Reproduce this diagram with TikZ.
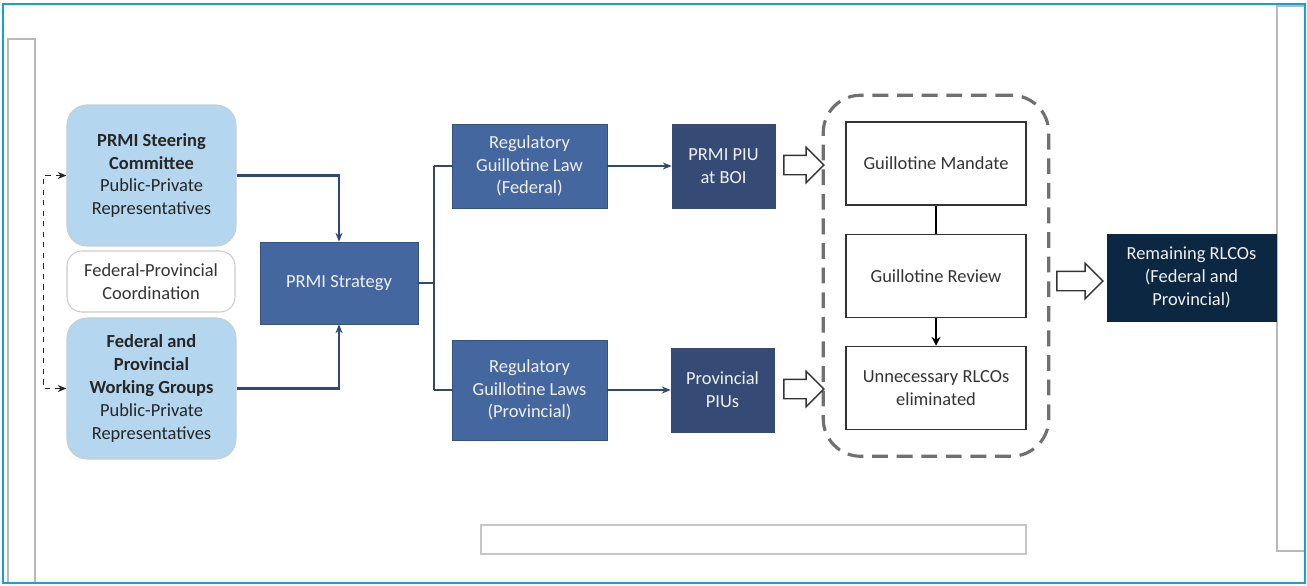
\documentclass[tikz,border=0pt]{standalone}
\usepackage{fontspec}
\setmainfont{Carlito}
\usepackage{tikz}
\usetikzlibrary{shapes.arrows, arrows.meta, positioning, fit}
\usepackage{xcolor}
\definecolor{paleblue}{RGB}{180,214,238}
\definecolor{midblue}{RGB}{68,103,160}
\definecolor{piublue}{RGB}{53,75,117}
\definecolor{navy}{RGB}{11,39,65}
\definecolor{linkblue}{RGB}{47,72,120}
\definecolor{framecyan}{RGB}{20,160,220}
\definecolor{groupgray}{RGB}{112,112,112}

\begin{document}
\begin{tikzpicture}[
    x=0.02cm, y=-0.02cm,
    body/.style={rectangle, rounded corners=0.4cm, draw=gray!40, line width=0.6pt, align=center, fill=paleblue, text=black!85, minimum width=3.38cm, minimum height=2.82cm},
    coordbox/.style={rectangle, rounded corners=0.3cm, draw=gray!40, line width=0.6pt, align=center, fill=white, text=black!80, minimum width=3.36cm, minimum height=1.22cm},
    process/.style={rectangle, draw=midblue!80!black, line width=0.4pt, align=center, fill=midblue, text=white!94!black, minimum width=3.1cm, minimum height=1.68cm},
    unit/.style={process, fill=piublue, draw=piublue, minimum width=2.06cm},
    stage/.style={rectangle, draw=black!80, line width=0.9pt, align=center, fill=white, text=black!80, minimum width=3.6cm, minimum height=1.66cm},
    hollow/.style={single arrow, draw=black!80, fill=white, line width=0.8pt, minimum height=0.8cm, minimum width=0.68cm, inner sep=0.18cm, single arrow head extend=0.16cm, anchor=center},
    link/.style={-{Stealth[length=5pt, width=4pt]}, linkblue, line width=1.3pt},
    branch/.style={linkblue, line width=1.3pt},
    every node/.append style={font=\fontsize{10.5}{13}\selectfont}
]
    % Frame and empty panels
    \useasboundingbox (0,0) rectangle (1307,585);
    \fill[white] (0,0) rectangle (1307,585);
    \draw[gray!55, line width=0.8pt] (8,583) |- (35,39) -- (35,583);
    \draw[gray!55, line width=0.8pt] (1305,6) -| (1277,551) -- (1305,551);
    \draw[gray!45, line width=0.8pt] (481,525) rectangle (1026,554);
    \draw[framecyan, line width=1.4pt] (3,4) rectangle (1305,583);

    % Left column
    \node[body] (steer) at (151.5,175.5) {\textbf{PRMI Steering}\\\textbf{Committee}\\Public-Private\\Representatives};
    \node[coordbox] (fedprov) at (151,281.5) {Federal-Provincial\\Coordination};
    \node[body] (groups) at (151.5,388.5) {\textbf{Federal and}\\\textbf{Provincial}\\\textbf{Working Groups}\\Public-Private\\Representatives};

    % Strategy and laws
    \node[process, minimum width=3.16cm, minimum height=1.64cm] (strategy) at (339,283) {PRMI Strategy};
    \node[process] (lawfed) at (529.5,166) {Regulatory\\Guillotine Law\\(Federal)};
    \node[process, minimum height=2.0cm] (lawprov) at (529.5,390) {Regulatory\\Guillotine Laws\\(Provincial)};

    % Implementation units
    \node[unit] (piufed) at (723.5,166) {PRMI PIU\\at BOI};
    \node[unit] (piuprov) at (722.5,390) {Provincial\\PIUs};

    % Guillotine stages
    \node[stage] (mandate) at (936,163.5) {Guillotine Mandate};
    \node[stage] (review) at (936,276) {Guillotine Review};
    \node[stage] (elim) at (936,388) {Unnecessary RLCOs\\eliminated};
    \node[draw=groupgray, dashed, dash pattern=on 9pt off 5pt, line width=1.8pt, rounded corners=0.75cm, fit=(mandate)(review)(elim), inner xsep=0.44cm, inner ysep=0.52cm] (guillotine) {};

    % Result
    \node[process, fill=navy, draw=navy, minimum width=3.38cm, minimum height=1.74cm] (remain) at (1191.5,277.5) {Remaining RLCOs\\(Federal and\\Provincial)};

    % Hollow arrows
    \node[hollow] (feedfed) at (799,165) {};
    \node[hollow] (feedprov) at (799,389) {};
    \node[hollow, minimum height=0.92cm] (feedout) at (1075,281) {};

    % Connections
    \draw[link] (steer.east) -| (strategy.north);
    \draw[link] (groups.east) -| (strategy.south);
    \draw[branch] (strategy.east) -- ++(16,0) coordinate (split);
    \draw[branch] (split |- lawfed.west) -- (split |- lawprov.west);
    \draw[branch] (split |- lawfed.west) -- (lawfed.west);
    \draw[branch] (split |- lawprov.west) -- (lawprov.west);
    \draw[link, line width=1pt] (lawfed.east) -- (piufed.west);
    \draw[link, line width=1pt] (lawprov.east) -- (piuprov.west);
    \draw[{Stealth[length=5pt, width=4pt]}-{Stealth[length=5pt, width=4pt]}, black!85, dashed, line width=0.8pt] (steer.west) -- ++(-23,0) |- (groups.west);
    \draw[black, line width=1.3pt] (mandate.south) -- (review.north);
    \draw[-{Stealth[length=5pt, width=5pt]}, black, line width=1.3pt] (review.south) -- (elim.north);

\end{tikzpicture}
\end{document}
